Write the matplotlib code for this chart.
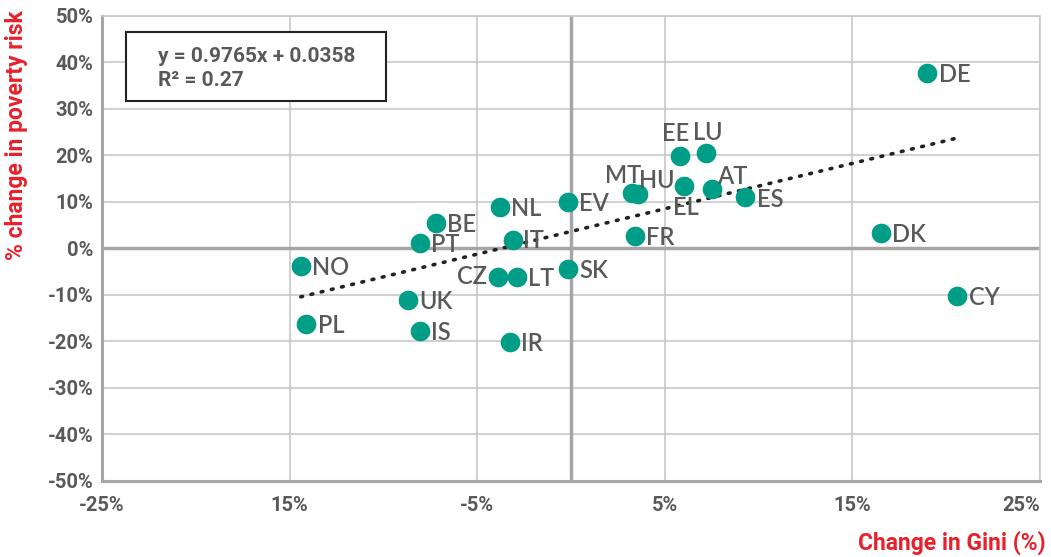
import matplotlib.pyplot as plt
from matplotlib.patches import Rectangle

# Change in Gini (%) vs % change in poverty risk
countries = ["DE", "EE", "LU", "MT", "HU", "EL", "AT", "ES", "EV", "NL", "BE", "PT",
             "IT", "FR", "DK", "NO", "SK", "CZ", "LT", "UK", "PL", "IS", "IR", "CY"]
gini_change = [19.0, 5.8, 7.2, 3.25, 3.6, 6.0, 7.5, 9.3, -0.15, -3.8, -7.2, -8.05,
               -3.1, 3.4, 16.5, -14.4, -0.15, -3.9, -2.9, -8.7, -14.1, -8.05, -3.25, 20.6]
poverty_change = [37.6, 19.8, 20.4, 11.8, 11.6, 13.3, 12.7, 11.0, 9.9, 8.8, 5.4, 1.1,
                  1.7, 2.6, 3.2, -3.9, -4.5, -6.2, -6.2, -11.2, -16.3, -17.8, -20.2, -10.3]

# trendline coefficients as printed on the chart (in %)
slope = 0.9765
intercept = 3.58

x_ticks = [-25, -15, -5, 5, 15, 25]
x_ticklabels = ["-25%", "15%", "-5%", "5%", "15%", "25%"]
y_ticks = [-50, -40, -30, -20, -10, 0, 10, 20, 30, 40, 50]

# label offsets in points (dx, dy, ha)
label_pos = {
    "EE": (-3, 16, "center"), "LU": (1.5, 15, "center"), "MT": (-6, 13, "center"),
    "HU": (13, 10, "center"), "EL": (2, -15, "center"), "AT": (15, 9, "center"),
    "ES": (8, -2, "left"), "CZ": (-8, 0, "right"), "IT": (7, 0, "left"),
}

grey = "#595959"
red = "#e8202a"
teal = "#009e87"

fig = plt.figure(figsize=(10.51, 5.57), dpi=100)
ax = fig.add_axes([0.097, 0.1373, 0.8925, 0.8345])

ax.set_xlim(-25, 25)
ax.set_ylim(-50, 50)

# grid
for xv in x_ticks:
    ax.axvline(xv, color="#c8c8c8", lw=1.2, zorder=0)
for yv in y_ticks:
    ax.axhline(yv, color="#c8c8c8", lw=1.2, zorder=0)
ax.axvline(0, color="#a6a6a6", lw=2.5, zorder=1)
ax.axhline(0, color="#a6a6a6", lw=2.5, zorder=1)

for side in ["top", "right"]:
    ax.spines[side].set_color("#c8c8c8")
    ax.spines[side].set_linewidth(1.2)
for side in ["left", "bottom"]:
    ax.spines[side].set_color("#a6a6a6")
    ax.spines[side].set_linewidth(2.2)

ax.set_xticks(x_ticks)
ax.set_xticklabels(x_ticklabels)
ax.set_yticks(y_ticks)
ax.set_yticklabels([f"{v}%" for v in y_ticks])
ax.tick_params(length=0, pad=6, labelcolor=grey)
ax.tick_params(axis="x", pad=11)
for lab in ax.get_xticklabels() + ax.get_yticklabels():
    lab.set_fontfamily("Roboto")
    lab.set_fontweight("bold")
    lab.set_fontsize(14.5)
ax.get_xticklabels()[-1].set_horizontalalignment("right")

# trendline
x0, x1 = min(gini_change), max(gini_change)
ax.plot([x0, x1], [slope * x0 + intercept, slope * x1 + intercept],
        ls=(0, (0.5, 2.4)), color="#222222", lw=2.6, dash_capstyle="round", zorder=2)

ax.scatter(gini_change, poverty_change, s=200, color=teal, zorder=3, linewidths=0)

for c, xv, yv in zip(countries, gini_change, poverty_change):
    dx, dy, ha = label_pos.get(c, (8, -1, "left"))
    ax.annotate(c, (xv, yv), xytext=(dx, dy), textcoords="offset points",
                ha=ha, va="center", fontsize=17, fontweight="semibold",
                color=grey, family="Lato", zorder=4)

# equation box
fig.patches.append(Rectangle((126 / 1051, 1 - 101 / 557), 260 / 1051, 69 / 557,
                             transform=fig.transFigure, fill=True, facecolor="white",
                             edgecolor="#222222", lw=1.5, zorder=5))
fig.text(158 / 1051, 1 - 56 / 557, "y = 0.9765x + 0.0358", fontsize=15, fontweight="bold",
         color=grey, family="Roboto", va="center", zorder=6)
fig.text(158 / 1051, 1 - 81 / 557, "R² = 0.27", fontsize=15, fontweight="bold",
         color=grey, family=["Roboto", "DejaVu Sans"], va="center", zorder=6)

fig.text(17 / 1051, 1 - 135 / 557, "% change in poverty risk", rotation=90, fontsize=16.5,
         fontweight="bold", color=red, family="Roboto", ha="center", va="center")
fig.text(1046 / 1051, 1 - 543 / 557, "Change in Gini (%)", fontsize=16.5,
         fontweight="bold", color=red, family="Roboto", ha="right", va="center")

fig.savefig("out.png", dpi=100)
